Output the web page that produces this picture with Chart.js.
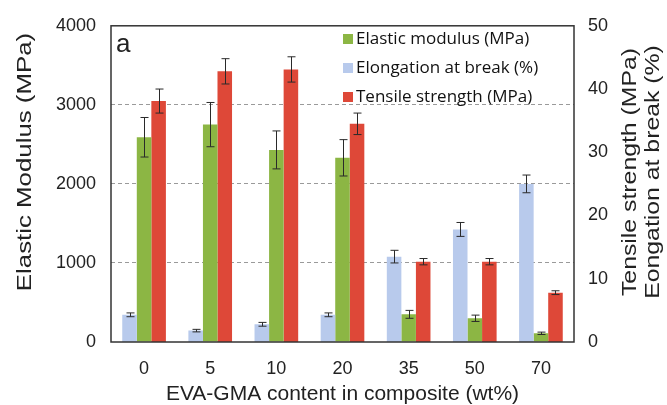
<!DOCTYPE html>
<html>
<head>
<meta charset="utf-8">
<script src="https://cdn.jsdelivr.net/npm/chart.js@4.4.0/dist/chart.umd.min.js"></script>
<style>
  html, body { margin: 0; padding: 0; background: #fff; }
  #wrap { width: 667px; height: 405px; position: relative; }
</style>
</head>
<body>
<div id="wrap"><canvas id="c"></canvas></div>
<script>
// EVA-GMA content (wt%)
const contents = ['0', '5', '10', '20', '35', '50', '70'];

// elongation at break (%), right axis
const elongation = [4.3, 1.8, 2.8, 4.3, 13.5, 17.8, 25.0];
const elongationErr = [0.3, 0.2, 0.3, 0.3, 1.0, 1.1, 1.4];

// elastic modulus (MPa), left axis
const modulus = [2590, 2750, 2430, 2330, 350, 300, 110];
const modulusErr = [250, 280, 240, 230, 50, 40, 15];

// tensile strength (MPa), right axis
const tensile = [38.1, 42.8, 43.1, 34.5, 12.7, 12.7, 7.8];
const tensileErr = [1.9, 2.0, 2.0, 1.7, 0.5, 0.5, 0.3];

const leftTicks = [0, 1000, 2000, 3000, 4000];
const rightTicks = [0, 10, 20, 30, 40, 50];

const green = 'rgb(140,182,68)';
const red = 'rgb(222,72,56)';
const blue = 'rgb(184,202,236)';
const sans = 'Liberation Sans, Arial, sans-serif';
const axisFont = { family: sans, size: 18 };

// error whiskers on top of each bar
const errorBars = {
  id: 'errorBars',
  afterDatasetsDraw(chart) {
    const ctx = chart.ctx;
    ctx.save();
    ctx.strokeStyle = '#2a2a2a';
    ctx.lineWidth = 1;
    chart.data.datasets.forEach((ds, di) => {
      const meta = chart.getDatasetMeta(di);
      const scale = chart.scales[ds.yAxisID];
      meta.data.forEach((bar, i) => {
        const v = ds.data[i], e = ds.errors[i];
        const y1 = scale.getPixelForValue(v + e);
        const y2 = scale.getPixelForValue(v - e);
        const x = Math.round(bar.x) + 0.5;
        ctx.beginPath();
        ctx.moveTo(x, y1); ctx.lineTo(x, y2);
        ctx.moveTo(x - 4, y1); ctx.lineTo(x + 4, y1);
        ctx.moveTo(x - 4, y2); ctx.lineTo(x + 4, y2);
        ctx.stroke();
      });
    });
    ctx.restore();
  }
};

// rotated title text, stretched along its length
function drawVertical(ctx, text, cx, cy, size, stretch) {
  ctx.save();
  ctx.translate(cx, cy);
  ctx.rotate(-Math.PI / 2);
  ctx.scale(stretch, 1);
  ctx.font = size + 'px ' + sans;
  ctx.textAlign = 'center';
  ctx.textBaseline = 'middle';
  ctx.fillText(text, 0, 0);
  ctx.restore();
}

// frame, panel letter, legend and side titles
const decorations = {
  id: 'decorations',
  afterDraw(chart) {
    const ctx = chart.ctx;
    const a = chart.chartArea;
    ctx.save();
    ctx.strokeStyle = '#333';
    ctx.lineWidth = 1.5;
    ctx.strokeRect(a.left, a.top, a.right - a.left, a.bottom - a.top);

    ctx.fillStyle = '#222';
    ctx.font = '26px ' + sans;
    ctx.textBaseline = 'middle';
    ctx.textAlign = 'left';
    ctx.fillText('a', a.left + 5, a.top + 19);

    const items = [
      ['Elastic modulus (MPa)', green],
      ['Elongation at break (%)', blue],
      ['Tensile strength (MPa)', red]
    ];
    ctx.font = '17px Open Sans, sans-serif';
    items.forEach((it, i) => {
      const y = 39 + i * 29;
      ctx.fillStyle = it[1];
      ctx.fillRect(343, y - 5, 10, 10);
      ctx.fillStyle = '#111';
      ctx.fillText(it[0], 356, y);
    });

    ctx.fillStyle = '#222';
    drawVertical(ctx, 'Elastic Modulus (MPa)', 25, 162, 21, 1.23);
    drawVertical(ctx, 'Tensile strength (MPa)', 630, 172, 20, 1.24);
    drawVertical(ctx, 'Eongation at break (%)', 653, 172, 20, 1.24);
    ctx.restore();
  }
};

new Chart(document.getElementById('c'), {
  type: 'bar',
  data: {
    labels: contents,
    datasets: [
      { label: 'Elongation at break (%)', data: elongation, errors: elongationErr, yAxisID: 'y1', backgroundColor: blue },
      { label: 'Elastic modulus (MPa)', data: modulus, errors: modulusErr, yAxisID: 'y', backgroundColor: green },
      { label: 'Tensile strength (MPa)', data: tensile, errors: tensileErr, yAxisID: 'y1', backgroundColor: red }
    ]
  },
  options: {
    responsive: true,
    maintainAspectRatio: false,
    animation: false,
    layout: { padding: { top: 23, left: 0, right: 0, bottom: 0 } },
    datasets: { bar: { categoryPercentage: 0.66, barPercentage: 1.0 } },
    plugins: { legend: { display: false }, tooltip: { enabled: false } },
    scales: {
      x: {
        grid: { display: false, drawTicks: false },
        border: { display: false },
        ticks: { color: '#222', font: axisFont, padding: 16 },
        title: { display: true, text: 'EVA-GMA content in composite (wt%)', color: '#222',
                 font: { family: sans, size: 21 }, padding: { top: 0, bottom: -2 } },
        afterFit(s) { s.height = 63; }
      },
      y: {
        position: 'left',
        min: 0, max: 4000,
        afterBuildTicks(s) { s.ticks = leftTicks.map(v => ({ value: v })); },
        grid: {
          drawTicks: false,
          color: c => (c.tick.value > 0 && c.tick.value < 4000) ? '#9a9a9a' : 'rgba(0,0,0,0)',
          lineWidth: 1
        },
        border: { display: false, dash: [4, 3] },
        ticks: { color: '#222', font: axisFont, padding: 15, callback: v => String(v) },
        afterFit(s) { s.width = 111; }
      },
      y1: {
        position: 'right',
        min: 0, max: 50,
        afterBuildTicks(s) { s.ticks = rightTicks.map(v => ({ value: v })); },
        grid: { display: false, drawTicks: false },
        border: { display: false },
        ticks: { color: '#222', font: axisFont, padding: 14, callback: v => String(v) },
        afterFit(s) { s.width = 93; }
      }
    }
  },
  plugins: [errorBars, decorations]
});
</script>
</body>
</html>
